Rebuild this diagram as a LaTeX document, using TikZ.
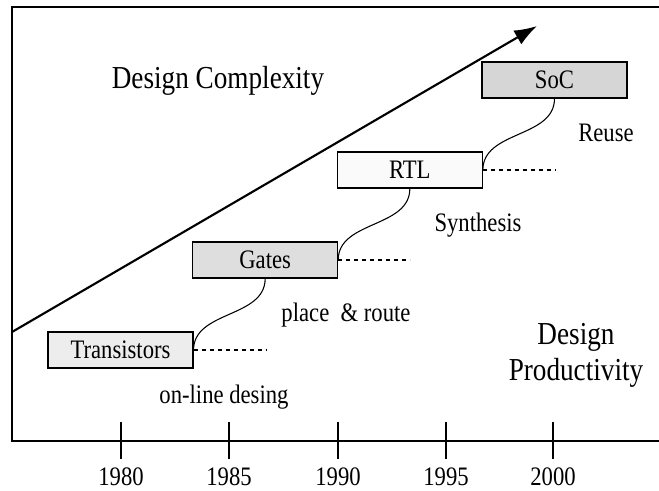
\documentclass[tikz,border=0pt]{standalone}
\usepackage{fontspec}
\setmainfont{Liberation Serif}[FakeStretch=0.85]
\usetikzlibrary{arrows.meta,positioning}

\begin{document}
\begin{tikzpicture}[x=0.75pt,y=-0.75pt,
	font=\fontsize{20}{22}\selectfont,
	node distance=2cm,
	on grid,
	stage/.style={draw,line width=0.8pt,minimum width=108.75pt,minimum height=27pt,inner sep=0pt},
	link/.style={line width=0.8pt,out=90,in=-90},
	level/.style={dashed,line width=0.8pt},
	frame/.style={line width=1pt},
	year/.style={inner sep=0pt},
	big/.style={font=\fontsize{24}{27}\selectfont}]

\useasboundingbox (0,0) rectangle (659,490);

% Frame and axis
\draw[frame] (659,7) -- (12,7) -- (12,441) -- (659,441);

% Years
\foreach \x/\yr in {121/1980,229/1985,338/1990,446/1995,553/2000}{
	\draw[frame] (\x,422) -- (\x,459);
	\node[year] (y\yr) at (\x,477) {\yr};
}

% Complexity arrow
\coordinate (start) at (12,332);
\coordinate (tip) at (537,26);
\draw[line width=1.6pt,-{Latex[length=17pt,width=12pt]}] (start) -- (tip);

% Stages
\node[stage,
	fill=black!7] (trans) at (120.5,350) {Transistors};

\node[stage,
	fill=black!13,
	above right=67.5pt and 108.5pt of trans] (gates) {Gates};

\node[stage,
	fill=black!2,
	above right=67.5pt and 108.5pt of gates] (rtl) {RTL};

\node[stage,
	fill=black!16,
	above right=67.5pt and 108.5pt of rtl] (soc) {SoC};

% Steps
\coordinate[right=55pt of trans.east] (tend);
\coordinate[right=54pt of gates.east] (gend);
\coordinate[right=55pt of rtl.east] (rend);

\draw[level] (trans.east) -- (tend);
\draw[level] (gates.east) -- (gend);
\draw[level] (rtl.east) -- (rend);

\draw[link] (trans.east) to (gates.south);
\draw[link] (gates.east) to (rtl.south);
\draw[link] (rtl.east) to (soc.south);

% Labels
\node[big] (complexity) at (218,81) {Design Complexity};
\node (reuse) at (606,133) {Reuse};
\node (synth) at (478,225) {Synthesis};
\node (pr) at (346,315) {place\ \ \& route};
\node (online) at (224,397) {on-line desing};
\node[big,align=center] (productivity) at (576,355) {Design\\Productivity};

\end{tikzpicture}
\end{document}
